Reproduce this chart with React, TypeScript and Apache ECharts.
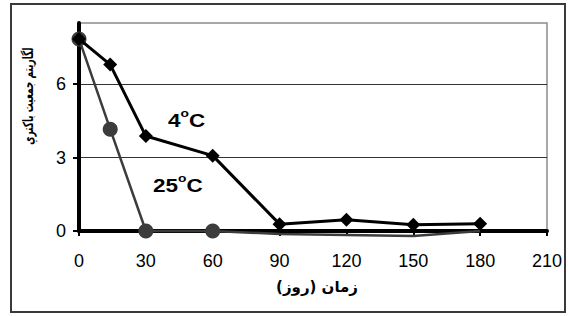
import React, { useEffect, useRef } from "react";
import * as echarts from "echarts";

const days = [0, 14, 30, 60, 90, 120, 150, 180];
const series4C = [7.85, 6.8, 3.88, 3.08, 0.28, 0.46, 0.26, 0.3];
const series25C = [7.85, 4.16, 0, 0, -0.12, -0.16, -0.2, 0];
const markers25C = [true, true, true, true, false, false, false, false];
const xTicks = [0, 30, 60, 90, 120, 150, 180, 210];
const yTicks = [0, 3, 6];
const xTitle = "زمان (روز)";
const yTitle = "لگاريتم جمعيت باكتري";
const label4 = "4";
const label25 = "25";

export default function App() {
  const ref = useRef<HTMLDivElement>(null);
  useEffect(() => {
    if (!ref.current) return;
    const chart = echarts.init(ref.current, null, { renderer: "svg" });
    const font = "'Liberation Sans', Arial, sans-serif";
    const rich = {
      n: { fontSize: 18, fontWeight: "bold", fontFamily: font, color: "#000", lineHeight: 22, verticalAlign: "bottom" },
      s: { fontSize: 11, fontWeight: "bold", fontFamily: font, color: "#000", lineHeight: 22, verticalAlign: "top" },
    };
    chart.setOption({
      animation: false,
      grid: {
        left: 79,
        right: 21,
        top: 23,
        bottom: 85,
        show: true,
        z: -1,
        borderColor: "#8c8c8c",
        borderWidth: 1.5,
      },
      xAxis: {
        type: "value",
        min: xTicks[0],
        max: xTicks[xTicks.length - 1],
        interval: 30,
        axisLine: { show: true, onZero: false, lineStyle: { color: "#000", width: 4 } },
        axisTick: { show: true, length: 5, lineStyle: { color: "#000", width: 2 } },
        splitLine: { show: false },
        axisLabel: { fontSize: 18, fontFamily: font, color: "#000", margin: 21 },
      },
      yAxis: {
        type: "value",
        min: 0,
        max: 8.5,
        interval: 3,
        axisLine: { show: true, onZero: false, lineStyle: { color: "#000", width: 4 } },
        axisTick: { show: true, length: 6, customValues: yTicks, lineStyle: { color: "#000", width: 2 } },
        splitLine: { show: true, lineStyle: { color: "#333", width: 1 } },
        axisLabel: {
          customValues: yTicks,
          fontSize: 18,
          fontFamily: font,
          color: "#000",
          margin: 13,
          formatter: (v: number) => (v % 3 === 0 ? String(v) : ""),
        },
      },
      graphic: [
        {
          type: "rect",
          shape: { x: 11, y: 4, width: 554, height: 308 },
          style: { fill: "none", stroke: "#3a3a3a", lineWidth: 2 },
          silent: true,
        },
        {
          type: "text",
          x: 317,
          y: 287,
          style: {
            text: xTitle,
            fontSize: 15,
            fontWeight: "bold",
            fontFamily: "'DejaVu Sans', sans-serif",
            fill: "#000",
            align: "center",
            verticalAlign: "middle",
          },
        },
        {
          type: "text",
          x: 28,
          y: 96,
          rotation: Math.PI / 2,
          scaleX: 0.64,
          style: {
            text: yTitle,
            fontSize: 14,
            fontWeight: "bold",
            fontFamily: "'DejaVu Sans', sans-serif",
            fill: "#000",
            align: "center",
            verticalAlign: "middle",
          },
        },
        {
          type: "text",
          x: 168,
          y: 108,
          scaleX: 1.25,
          style: { text: `{n|${label4}}{s|o}{n|C}`, rich },
        },
        {
          type: "text",
          x: 153,
          y: 173,
          scaleX: 1.25,
          style: { text: `{n|${label25}}{s|o}{n|C}`, rich },
        },
      ],
      series: [
        {
          type: "line",
          clip: false,
          data: days.map((d, i) => ({
            value: [d, series25C[i]],
            symbol: markers25C[i] ? "circle" : "none",
          })),
          symbolSize: 15,
          itemStyle: { color: "#3c3c3c" },
          lineStyle: { color: "#3c3c3c", width: 2.5 },
          z: 3,
        },
        {
          type: "line",
          clip: false,
          data: days.map((d, i) => [d, series4C[i]]),
          symbol: "diamond",
          symbolSize: 14,
          itemStyle: { color: "#000" },
          lineStyle: { color: "#000", width: 3 },
          z: 4,
        },
      ],
    });
    return () => chart.dispose();
  }, []);
  return (
    <div
      ref={ref}
      style={{ position: "fixed", left: 0, top: 0, width: 568, height: 316, background: "#fff" }}
    />
  );
}
